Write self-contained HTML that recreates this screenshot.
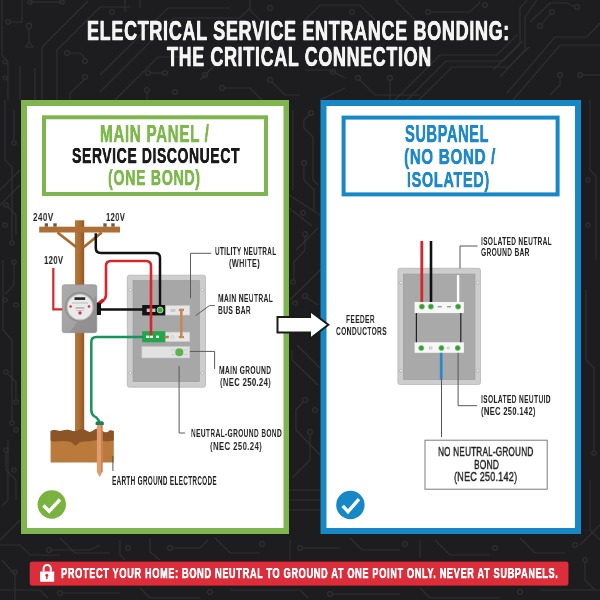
<!DOCTYPE html>
<html><head><meta charset="utf-8"><style>
html,body{margin:0;padding:0;width:600px;height:600px;overflow:hidden;background:#1d1d20}
.t{position:absolute;will-change:transform;white-space:nowrap;line-height:1;font-family:"Liberation Sans",sans-serif;transform-origin:0 0}
</style></head><body>
<svg width="600" height="600" viewBox="0 0 600 600" style="position:absolute;left:0;top:0">
<defs>
<linearGradient id="pole" x1="0" x2="1" y1="0" y2="0"><stop offset="0" stop-color="#b97a3c"/><stop offset="0.55" stop-color="#a96b30"/><stop offset="1" stop-color="#925627"/></linearGradient>
<linearGradient id="meter" x1="0" y1="0" x2="1" y2="1"><stop offset="0" stop-color="#ababab"/><stop offset="0.6" stop-color="#a2a2a2"/><stop offset="0.61" stop-color="#939393"/><stop offset="1" stop-color="#8d8d8d"/></linearGradient>
</defs>
<rect width="600" height="600" fill="#1d1d20"/>
<g id="circuit" fill="none" stroke="#303034" stroke-width="1.2">
<path d="M2 0 V55 L8 62 V100"/>
<path d="M30 2 H62"/><circle cx="30" cy="2" r="2.2"/><circle cx="62" cy="2" r="2.2"/>
<path d="M22 0 V22 H10"/><circle cx="8" cy="22" r="2.2"/>
<circle cx="29" cy="26" r="2.6"/><path d="M29 29 V42 L26 47 H33 L29 42"/>
<path d="M42 100 V47 L88 1"/>
<path d="M57 100 V50 L100 7 H130"/>
<circle cx="67" cy="53" r="2.4"/><path d="M69.4 53 H80 L85 58"/><circle cx="85" cy="61" r="2.4"/>
<circle cx="85" cy="77" r="2.4"/><path d="M85 79 L70 93 V100"/>
<circle cx="5" cy="62" r="2"/><circle cx="5" cy="78" r="2"/>
<path d="M20 66 V100 M35 68 V100"/>
<path d="M100 75 L168 8 H230"/>
<path d="M100 92 L174 18 H240 L250 8"/>
<path d="M115 100 L158 57 H200"/>
<circle cx="148" cy="73" r="2.4"/><circle cx="165" cy="73" r="2.4"/><path d="M150.4 73 H162.6"/>
<circle cx="147" cy="90" r="2.4"/><path d="M147 92.4 V100"/>
<circle cx="175" cy="92" r="2.4"/>
<path d="M125 0 V12 M140 0 V8"/><circle cx="112" cy="12" r="2.4"/>
<path d="M200 80 L230 50 H262 L280 32"/>
<circle cx="205" cy="75" r="2.4"/><circle cx="222" cy="88" r="2.4"/><path d="M224 88 H250 L262 100"/>
<circle cx="270" cy="80" r="2.4"/><path d="M272 82 L285 95 H300"/>
<path d="M250 0 V10 L262 22 V40"/><circle cx="270" cy="8" r="2.4"/>
<path d="M300 25 L320 5 H360 L375 20"/><circle cx="352" cy="12" r="2.4"/>
<path d="M305 70 H330 L345 78"/><circle cx="333" cy="72" r="2.4"/>
<circle cx="358" cy="78" r="2.4"/><path d="M360 80 L375 95 H420"/>
<circle cx="390" cy="78" r="2.4"/><path d="M390 80.4 V100"/>
<path d="M320 100 L345 88"/>
<path d="M395 0 L420 25 V55"/>
<path d="M430 12 H470 L480 2"/><circle cx="428" cy="12" r="2.4"/><circle cx="485" cy="5" r="2.4"/>
<path d="M395 100 L440 55 H497 L517 35"/>
<path d="M407 100 L446 61 H503 L523 41"/>
<path d="M419 100 L452 67 H509 L529 47"/>
<path d="M500 77 L525 50 V17 L537 0"/>
<path d="M493 70 L520 43 V8 L527 0"/>
<path d="M507 93 L555 37 H587 L600 23"/>
<path d="M513 100 L560 45 H600"/>
<path d="M530 22 L550 3 H567 L575 7"/><circle cx="577" cy="7" r="2.4"/>
<circle cx="540" cy="26" r="2.4"/><path d="M542 24 L550 14"/><circle cx="552" cy="12" r="2.4"/>
<circle cx="560" cy="75" r="2.4"/><path d="M560 77.4 V85 L550 95"/>
<circle cx="580" cy="75" r="2.4"/><path d="M582.4 75 H600"/>
<!-- left strip -->
<path d="M5 100 V160 L12 167 V240"/><circle cx="12" cy="243" r="2.2"/>
<path d="M14 110 V140"/><circle cx="14" cy="143" r="2.2"/>
<path d="M3 260 V330 L12 340 V420"/><circle cx="12" cy="423" r="2.2"/>
<path d="M8 440 V500 L2 506"/><circle cx="14" cy="470" r="2.2"/>
<path d="M0 540 L20 520"/>
<circle cx="6" cy="205" r="2.2"/><path d="M8 207 L16 215 V235"/><circle cx="5" cy="225" r="2.2"/>
<circle cx="14" cy="262" r="2.2"/><path d="M14 264 V285 L5 294"/><circle cx="5" cy="300" r="2.2"/><circle cx="16" cy="305" r="2.2"/>
<path d="M0 190 L20 170"/><path d="M0 205 L20 185"/>
<circle cx="6" cy="372" r="2.2"/><path d="M8 374 L16 382 V400"/><circle cx="16" cy="402" r="2.2"/>
<circle cx="6" cy="450" r="2.2"/><path d="M6 452 V470 L16 480 V500"/><circle cx="16" cy="430" r="2.2"/>
<!-- right strip -->
<path d="M590 100 V170 L596 176 V260"/><circle cx="588" cy="180" r="2.2"/>
<path d="M586 290 V360 L594 368 V450"/><circle cx="594" cy="453" r="2.2"/>
<path d="M590 480 V530 L600 540"/><circle cx="588" cy="225" r="2.2"/>
<!-- gap -->
<path d="M293 110 V190 M296 250 L318 228"/>
<circle cx="311" cy="113" r="2.4"/><path d="M309 115 L304 120 V128 L313 137 V180 L318 185"/>
<circle cx="304" cy="163" r="2.4"/><path d="M304 166 V180 L314 190 V210"/>
<path d="M289 195 L320 215 M289 208 L312 226"/>
<circle cx="303" cy="213" r="2.4"/>
<circle cx="305" cy="234" r="2.4"/><path d="M305 236 V250 L294 262 V280"/><circle cx="293" cy="282" r="2.2"/>
<path d="M290 300 L322 268"/>
<circle cx="305" cy="296" r="2.4"/><path d="M307 298 L318 305"/><circle cx="295" cy="303" r="2.2"/>
<path d="M292 350 V360 L318 385 M297 345 L320 368"/>
<circle cx="305" cy="400" r="2.4"/><path d="M303 402 L296 410 V430 L320 455"/>
<circle cx="315" cy="410" r="2.4"/><circle cx="310" cy="432" r="2.4"/><path d="M310 434 V460 L292 478"/>
<path d="M289 490 H320 M289 500 H320 M289 510 H320"/>
<!-- bottom band -->
<path d="M0 545 H20 L30 555 H60"/><circle cx="49" cy="550" r="2.4"/><path d="M51.4 550 H90 L100 545"/>
<path d="M60 538 L75 553 H110"/><path d="M120 540 V555 L125 560"/><circle cx="128" cy="548" r="2.4"/>
<path d="M150 538 V552 L160 560"/><circle cx="170" cy="548" r="2.4"/><path d="M172 548 H200 L208 540"/>
<path d="M215 538 L230 553 H260"/><circle cx="262" cy="544" r="2.4"/>
<path d="M290 540 V560"/><circle cx="300" cy="548" r="2.4"/><path d="M302 548 H340"/>
<path d="M350 538 L362 550 H400"/><circle cx="405" cy="544" r="2.4"/>
<path d="M420 540 V558 M435 540 L450 555 H490"/><circle cx="495" cy="548" r="2.4"/>
<path d="M520 538 L535 553 H565"/><circle cx="575" cy="545" r="2.4"/><path d="M580 545 L600 525"/>
<path d="M0 590 H40 L48 598"/><circle cx="60" cy="593" r="2.4"/><path d="M62.4 593 H120"/>
<path d="M140 588 L150 598 H200"/><circle cx="210" cy="592" r="2.4"/>
<path d="M230 590 H300 L308 598"/><circle cx="330" cy="594" r="2.4"/><path d="M332 594 H400"/>
<path d="M420 588 L430 598 H500"/><circle cx="520" cy="592" r="2.4"/><path d="M540 590 H600"/>
<path d="M2 560 L15 575 V600"/><circle cx="15" cy="572" r="2.2"/>
<path d="M585 562 V580 L595 590"/><circle cx="585" cy="560" r="2.2"/>
</g>
<!-- cards -->
<rect x="21" y="100" width="268" height="434" fill="#7fb54e"/>
<rect x="27" y="106" width="256.5" height="422" fill="#ffffff"/>
<rect x="44" y="117.3" width="222" height="76.7" fill="none" stroke="#7fb54e" stroke-width="4"/>
<rect x="320.5" y="100" width="260.5" height="434" fill="#1788c6"/>
<rect x="326.5" y="106" width="248.5" height="422" fill="#ffffff"/>
<rect x="343.6" y="117.6" width="214" height="76.8" fill="none" stroke="#1788c6" stroke-width="4"/>

<!-- LEFT DIAGRAM -->
<!-- pole -->
<rect x="75" y="220.3" width="9.2" height="211" fill="url(#pole)"/>
<rect x="39.2" y="226.7" width="80.8" height="5.8" fill="#ad6f33"/>
<g fill="#6e5a48">
<rect x="44.7" y="223.3" width="3.3" height="3.4"/><rect x="53.3" y="223.3" width="3.4" height="3.4"/>
<rect x="103.3" y="223.3" width="3.4" height="3.4"/><rect x="111.3" y="223.3" width="3.4" height="3.4"/>
</g>
<path d="M57.5 232.5 L76.7 247.5 M101.7 232.5 L83.3 247.5" stroke="#a86a2e" stroke-width="2.8"/>

<!-- panel left -->
<rect x="127.3" y="275.2" width="78.2" height="112" rx="2" fill="#cdcdcd" stroke="#b0b0b0" stroke-width="0.7"/>
<rect x="133" y="280.3" width="66.7" height="101.4" fill="#a7a7a7" stroke="#999" stroke-width="0.5"/>
<g fill="#f4f4f4" stroke="#8f8f8f" stroke-width="0.5"><circle cx="130.3" cy="289.7" r="1.4"/><circle cx="202.5" cy="289.7" r="1.4"/><circle cx="130.3" cy="373" r="1.4"/><circle cx="202.5" cy="373" r="1.4"/></g>
<rect x="142.2" y="305" width="23.4" height="10.4" fill="#141414"/>
<rect x="165.6" y="305.5" width="24.2" height="9.6" fill="#e6e6e6" stroke="#c4c4c4" stroke-width="0.5"/>
<rect x="146.7" y="308.6" width="8.7" height="3.4" fill="#c8c8c8"/>
<rect x="170.6" y="309" width="4.7" height="3" fill="#c9c9c9"/>
<rect x="142.2" y="331.2" width="23.4" height="11.1" fill="#22a64b"/>
<rect x="165.6" y="332.1" width="24.2" height="9.6" fill="#e6e6e6" stroke="#c4c4c4" stroke-width="0.5"/>
<circle cx="172.5" cy="337" r="1.6" fill="none" stroke="#bbb" stroke-width="0.5"/>
<rect x="146" y="335.6" width="3" height="2.4" fill="#f0f0f0"/>
<rect x="156" y="335.6" width="3" height="2.4" fill="#f0f0f0"/>
<rect x="164.2" y="335.8" width="4.6" height="2.4" fill="#b97a4a"/>
<rect x="180" y="311" width="2.6" height="25.4" fill="#c7875a"/>
<rect x="178.8" y="308.7" width="5.2" height="2.4" fill="#c7875a"/>
<rect x="178.8" y="336" width="5.2" height="2.2" fill="#c7875a"/>
<rect x="141.8" y="346.3" width="48" height="11.7" fill="#e1e1e1" stroke="#c0c0c0" stroke-width="0.6"/>
<path d="M171 350 H188 M171 354.5 H188" stroke="#bdbdbd" stroke-width="0.6"/>
<circle cx="179.3" cy="352.2" r="4" fill="#5db34c"/>

<!-- wires left -->
<path d="M95.8 233.3 V248 Q95.8 253 100.8 253 H155 Q160 253 160 258 V306" fill="none" stroke="#111" stroke-width="2.5"/>
<path d="M98 304 L103 300.5 Q106 298.5 106 295 V266 Q106 261 111 261 H146 Q151 261 151 266 V337" fill="none" stroke="#d8262b" stroke-width="2.6"/>
<path d="M97.5 304.5 L103.5 300" stroke="#c81e28" stroke-width="3.6"/>
<path d="M53.3 268 V309.3 H63" fill="none" stroke="#d8262b" stroke-width="2.2"/>
<path d="M101 309.6 H143" fill="none" stroke="#111" stroke-width="2.5"/>
<path d="M143 337 H96.3 Q91.3 337 91.3 342 V410 Q91.3 414 94 416 Q97 417.5 98 419.5 L99.5 421.5" fill="none" stroke="#14965a" stroke-width="2.5"/>
<circle cx="160.1" cy="310" r="3" fill="#3fae3f" stroke="#cfeec8" stroke-width="0.8"/>
<rect x="149.6" y="335.6" width="3.4" height="2.4" fill="#f0f0f0"/>

<!-- meter -->
<rect x="62.2" y="284.7" width="34.6" height="48" rx="2.2" fill="url(#meter)" stroke="#8d8d8d" stroke-width="0.6"/>
<circle cx="80" cy="307" r="15" fill="#8c8c8c"/>
<circle cx="80" cy="307" r="13.6" fill="#b9bcbc"/>
<circle cx="80" cy="307" r="12.3" fill="#eaeaea"/>
<rect x="74.5" y="297.3" width="10.7" height="2.6" fill="#222"/>
<rect x="72" y="302.6" width="16" height="0.8" fill="#b0b0b0"/>
<rect x="75.5" y="307.5" width="9" height="0.9" fill="#888"/>
<rect x="76" y="310" width="8" height="0.8" fill="#bbb"/>
<circle cx="70.6" cy="306.5" r="1.3" fill="#d83050"/>
<circle cx="89" cy="306.5" r="1.3" fill="#d83050"/>
<circle cx="80" cy="313" r="1.7" fill="#d83050"/>
<rect x="96.8" y="303" width="4.2" height="12" fill="#111"/>

<!-- leaders left -->
<g fill="none" stroke="#5a5a5a" stroke-width="1">
<path d="M211.2 253.3 H190.5 V298"/>
<path d="M214.9 305.6 H209.4 L195.6 315.7"/>
<path d="M190 351.4 H214.6 V369"/>
<path d="M179.1 366 V433 H185"/>
</g>
<!-- ground -->
<path d="M50.6 431 Q54 429.5 57 430.5 T64 430.2 T71 430.6 T78 430 T86 430.6 T94 430 T102 430.6 T110 430.2 L113.8 431 V462.5 H50.6 Z" fill="#b97a3c"/>
<path d="M50.6 431 Q54 429.5 57 430.5 T64 430.2 T71 430.6 T78 430 T86 430.6 T94 430 T102 430.6 T110 430.2 L113.8 431 V440.5 Q108 442 102 440.8 T90 441.2 Q84 441 80 442 L75.5 445.8 L71 442 Q64 440.5 58 441.2 T50.6 440.6 Z" fill="#8b5527"/>
<path d="M96.9 425 H102.5 V472 L99.7 477 L96.9 472 Z" fill="#e39a6c"/>
<rect x="101" y="425" width="1.5" height="47" fill="#c98050"/>
<path d="M95.6 425 V422.8 Q95.6 421.2 97.2 421.2 H102.2 Q103.8 421.2 103.8 422.8 V425 Z" fill="#15805a"/>
<path d="M112.9 456 V471" stroke="#555" stroke-width="1"/>
<!-- check -->
<circle cx="51.8" cy="504.5" r="14.2" fill="#79b23f"/>
<path d="M43.5 505.5 L49.2 511.2 L60 499.5" fill="none" stroke="#fff" stroke-width="3.4"/>

<!-- ARROW -->
<path d="M277.5 317 H310 V311 L328.3 324.8 L310 338.7 V332.6 H277.5 Z" fill="#fff" stroke="#1a1a1a" stroke-width="2" stroke-linejoin="miter"/>

<!-- RIGHT DIAGRAM -->
<rect x="397.9" y="268.3" width="82.6" height="116.2" rx="2" fill="#cdcdcd" stroke="#b0b0b0" stroke-width="0.7"/>
<rect x="403.3" y="274" width="71.7" height="105.7" fill="#a9a9a9" stroke="#999" stroke-width="0.5"/>
<g fill="#f4f4f4" stroke="#8f8f8f" stroke-width="0.5"><circle cx="401" cy="282.7" r="1.4"/><circle cx="477.7" cy="282.7" r="1.4"/><circle cx="401" cy="370.7" r="1.4"/><circle cx="477.7" cy="370.7" r="1.4"/></g>
<path d="M421.8 241 V306" stroke="#d8262b" stroke-width="2.8"/>
<path d="M431 241 V306" stroke="#111" stroke-width="2.6"/>
<path d="M458.1 275 V306" stroke="#fff" stroke-width="2.4"/>
<rect x="414.6" y="302" width="49.3" height="11.1" fill="#f7f7f7"/>
<rect x="414.6" y="342.3" width="49.3" height="10.5" fill="#f7f7f7"/>
<g fill="#3c9a3c" stroke="#7cc870" stroke-width="0.7">
<circle cx="421.9" cy="306.6" r="2.6"/><circle cx="430.9" cy="306.6" r="2.6"/><circle cx="458.1" cy="306.6" r="2.6"/>
<circle cx="421.3" cy="348" r="2.6"/><circle cx="441.4" cy="348" r="2.6"/><circle cx="457.7" cy="348" r="2.6"/>
</g>
<rect x="437.7" y="306" width="4.1" height="1.4" fill="#9a9a9a"/>
<rect x="447" y="306" width="4" height="1.4" fill="#9a9a9a"/>
<rect x="429.5" y="347" width="2.5" height="2" fill="none" stroke="#999" stroke-width="0.5"/>
<circle cx="448.4" cy="348" r="1.1" fill="none" stroke="#999" stroke-width="0.5"/>
<path d="M416.4 313 V342.3 M460.8 313 V342.3" stroke="#222" stroke-width="1.2"/>
<path d="M441.2 352.8 V379.5" stroke="#2a8ac7" stroke-width="2.8"/>
<g fill="none" stroke="#555" stroke-width="1">
<path d="M441.5 379 V437"/>
<path d="M460 268.3 V246 H477.6"/>
<path d="M458.1 352.8 V405.7 H477.2"/>
</g>
<rect x="425" y="440.2" width="122.2" height="49" fill="#fff" stroke="#7a7a7a" stroke-width="1"/>
<circle cx="350.4" cy="505" r="14.2" fill="#1788c6"/>
<path d="M342.7 505.8 L348 511.6 L359 499.2" fill="none" stroke="#fff" stroke-width="3.4"/>

<!-- BANNER -->
<rect x="29.8" y="561.8" width="538.5" height="24.2" rx="2" fill="#a81c26"/>
<rect x="29.8" y="561.8" width="538.5" height="23.2" rx="2" fill="#dc2d3a"/>
<path d="M43.6 571.5 V568.5 A3.6 3.6 0 0 1 50.8 568.5 V571.5" fill="none" stroke="#fff" stroke-width="2"/>
<rect x="40" y="571.5" width="14.2" height="10.3" rx="0.8" fill="#fff"/>
<circle cx="46.8" cy="575.2" r="1.5" fill="#dc2d3a"/>
<rect x="46.1" y="575.5" width="1.4" height="3.6" fill="#dc2d3a"/>
</svg>

<div class="t" style="left:87.10px;top:15.52px;font-size:28.48px;font-weight:bold;color:#f4f4f4;transform:scaleX(0.6316);text-shadow:0.45px 0 0 #f4f4f4,-0.45px 0 0 #f4f4f4;-webkit-text-stroke:0.35px #f4f4f4;letter-spacing:1.10px;">ELECTRICAL SERVICE ENTRANCE BONDING:</div>
<div class="t" style="left:167.40px;top:41.54px;font-size:28.33px;font-weight:bold;color:#f4f4f4;transform:scaleX(0.6309);text-shadow:0.45px 0 0 #f4f4f4,-0.45px 0 0 #f4f4f4;-webkit-text-stroke:0.35px #f4f4f4;letter-spacing:1.10px;">THE CRITICAL CONNECTION</div>
<div class="t" style="left:100.09px;top:122.63px;font-size:23.12px;font-weight:bold;color:#7cb84a;transform:scaleX(0.6580);text-shadow:0.25px 0 0 #7cb84a,-0.25px 0 0 #7cb84a;-webkit-text-stroke:0.25px #7cb84a;letter-spacing:1.00px;">MAIN PANEL /</div>
<div class="t" style="left:71.52px;top:144.57px;font-size:22.25px;font-weight:bold;color:#1a1a1a;transform:scaleX(0.6258);text-shadow:0.25px 0 0 #1a1a1a,-0.25px 0 0 #1a1a1a;-webkit-text-stroke:0.25px #1a1a1a;letter-spacing:1.00px;">SERVICE DISCONUECT</div>
<div class="t" style="left:108.13px;top:166.77px;font-size:22.25px;font-weight:bold;color:#7cb84a;transform:scaleX(0.6397);text-shadow:0.25px 0 0 #7cb84a,-0.25px 0 0 #7cb84a;-webkit-text-stroke:0.25px #7cb84a;letter-spacing:1.00px;">(ONE BOND)</div>
<div class="t" style="left:404.71px;top:123.43px;font-size:23.12px;font-weight:bold;color:#1e88c8;transform:scaleX(0.6310);text-shadow:0.25px 0 0 #1e88c8,-0.25px 0 0 #1e88c8;-webkit-text-stroke:0.25px #1e88c8;letter-spacing:1.00px;">SUBPANEL</div>
<div class="t" style="left:403.69px;top:145.84px;font-size:22.39px;font-weight:bold;color:#1e88c8;transform:scaleX(0.6785);text-shadow:0.25px 0 0 #1e88c8,-0.25px 0 0 #1e88c8;-webkit-text-stroke:0.25px #1e88c8;letter-spacing:1.00px;">(NO BOND /</div>
<div class="t" style="left:407.33px;top:167.67px;font-size:22.83px;font-weight:bold;color:#1e88c8;transform:scaleX(0.6355);text-shadow:0.25px 0 0 #1e88c8,-0.25px 0 0 #1e88c8;-webkit-text-stroke:0.25px #1e88c8;letter-spacing:1.00px;">ISOLATED)</div>
<div class="t" style="left:32.76px;top:212.14px;font-size:11.59px;font-weight:bold;color:#222;transform:scaleX(0.7041);letter-spacing:0.60px;">240V</div>
<div class="t" style="left:105.54px;top:212.14px;font-size:11.59px;font-weight:bold;color:#222;transform:scaleX(0.6558);letter-spacing:0.60px;">120V</div>
<div class="t" style="left:43.54px;top:255.14px;font-size:11.59px;font-weight:bold;color:#222;transform:scaleX(0.6629);letter-spacing:0.60px;">120V</div>
<div class="t" style="left:214.82px;top:246.04px;font-size:11.01px;font-weight:bold;color:#222;transform:scaleX(0.5798);letter-spacing:0.60px;">UTILITY NEUTRAL</div>
<div class="t" style="left:228.64px;top:258.44px;font-size:11.01px;font-weight:bold;color:#222;transform:scaleX(0.6611);letter-spacing:0.60px;">(WHITE)</div>
<div class="t" style="left:218.03px;top:292.84px;font-size:11.01px;font-weight:bold;color:#222;transform:scaleX(0.6068);letter-spacing:0.60px;">MAIN NEUTRAL</div>
<div class="t" style="left:218.03px;top:305.24px;font-size:11.01px;font-weight:bold;color:#222;transform:scaleX(0.6084);letter-spacing:0.60px;">BUS BAR</div>
<div class="t" style="left:219.13px;top:365.24px;font-size:11.01px;font-weight:bold;color:#222;transform:scaleX(0.6053);letter-spacing:0.60px;">MAIN GROUND</div>
<div class="t" style="left:219.62px;top:377.04px;font-size:11.01px;font-weight:bold;color:#222;transform:scaleX(0.6868);letter-spacing:0.60px;">(NEC 250.24)</div>
<div class="t" style="left:190.54px;top:428.24px;font-size:11.01px;font-weight:bold;color:#222;transform:scaleX(0.5991);letter-spacing:0.60px;">NEUTRAL-GROUND BOND</div>
<div class="t" style="left:209.61px;top:440.64px;font-size:11.01px;font-weight:bold;color:#222;transform:scaleX(0.7005);letter-spacing:0.60px;">(NEC 250.24)</div>
<div class="t" style="left:112.35px;top:476.10px;font-size:11.88px;font-weight:bold;color:#222;transform:scaleX(0.5356);letter-spacing:0.60px;">EARTH GROUND ELECTRCODE</div>
<div class="t" style="left:346.44px;top:313.99px;font-size:11.30px;font-weight:bold;color:#222;transform:scaleX(0.5856);letter-spacing:0.60px;">FEEDER</div>
<div class="t" style="left:335.53px;top:326.19px;font-size:11.30px;font-weight:bold;color:#222;transform:scaleX(0.5882);letter-spacing:0.60px;">CONDUCTORS</div>
<div class="t" style="left:480.54px;top:235.59px;font-size:11.30px;font-weight:bold;color:#222;transform:scaleX(0.5771);letter-spacing:0.60px;">ISOLATED NEUTRAL</div>
<div class="t" style="left:480.74px;top:247.39px;font-size:11.30px;font-weight:bold;color:#222;transform:scaleX(0.5817);letter-spacing:0.60px;">GROUND BAR</div>
<div class="t" style="left:481.33px;top:393.54px;font-size:11.59px;font-weight:bold;color:#222;transform:scaleX(0.5731);letter-spacing:0.60px;">ISOLATED NEUTUID</div>
<div class="t" style="left:480.63px;top:405.54px;font-size:11.59px;font-weight:bold;color:#222;transform:scaleX(0.6454);letter-spacing:0.60px;">(NEC 250.142)</div>
<div class="t" style="left:438.21px;top:445.87px;font-size:12.83px;font-weight:normal;color:#222;transform:scaleX(0.6401);-webkit-text-stroke:0.45px #222;letter-spacing:0.30px;">NO NEUTRAL-GROUND</div>
<div class="t" style="left:473.60px;top:458.67px;font-size:12.83px;font-weight:normal;color:#222;transform:scaleX(0.6547);-webkit-text-stroke:0.45px #222;letter-spacing:0.30px;">BOND</div>
<div class="t" style="left:454.14px;top:471.37px;font-size:12.83px;font-weight:normal;color:#222;transform:scaleX(0.7070);-webkit-text-stroke:0.45px #222;letter-spacing:0.30px;">(NEC 250.142)</div>
<div class="t" style="left:61.04px;top:566.25px;font-size:14.86px;font-weight:bold;color:#ffffff;transform:scaleX(0.6220);text-shadow:0.25px 0 0 #ffffff,-0.25px 0 0 #ffffff;-webkit-text-stroke:0.25px #ffffff;letter-spacing:1.00px;">PROTECT YOUR HOME: BOND NEUTRAL TO GROUND AT ONE POINT ONLY. NEVER AT SUBPANELS.</div>
</body></html>
